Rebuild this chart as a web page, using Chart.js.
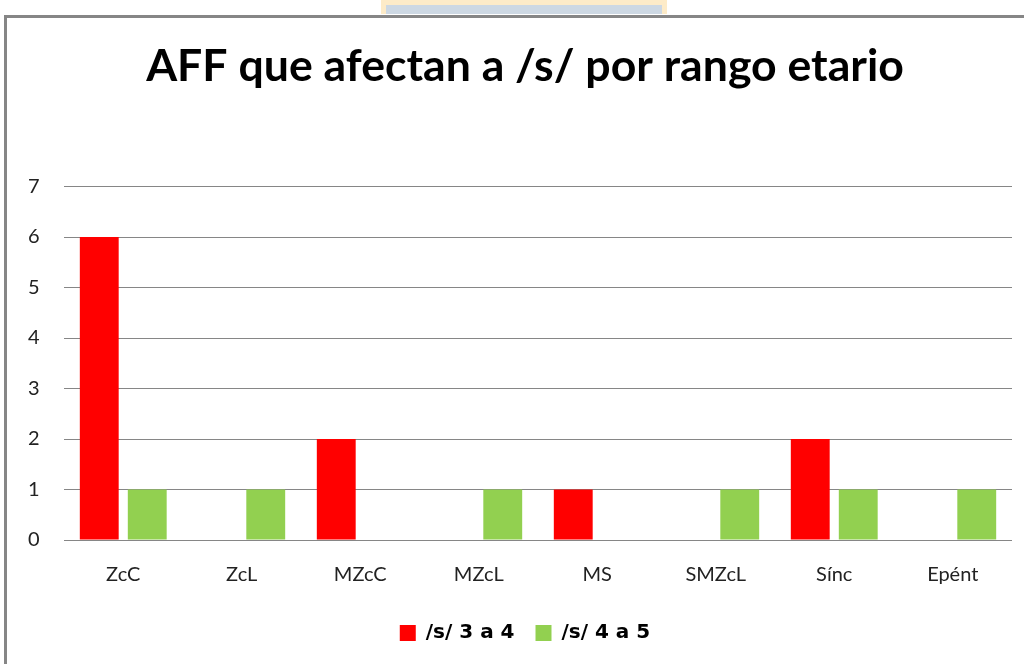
<!DOCTYPE html>
<html>
<head>
<meta charset="utf-8">
<script src="https://cdn.jsdelivr.net/npm/chart.js@4/dist/chart.umd.min.js"></script>
<style>
  html, body { margin: 0; padding: 0; background: #fff; }
  #wrap { position: relative; width: 1024px; height: 664px; overflow: hidden; }
  /* frame of the pasted chart */
  #tab { position: absolute; left: 381px; top: 0; width: 286px; height: 14px;
         background: #fdebc8; }
  #tab div { position: absolute; left: 5px; right: 5px; top: 5px; bottom: 0; background: #cdd8e3; }
  #frame { position: absolute; left: 4px; top: 15px; width: 1030px; height: 700px;
           border-top: 3px solid #868686; border-left: 3px solid #868686; }
  canvas { position: absolute; left: 0; top: 0; }
</style>
</head>
<body>
<div id="wrap">
  <div id="tab"><div></div></div>
  <div id="frame"></div>
  <canvas id="chart" width="1024" height="664"></canvas>
</div>
<script>
  // Categories and series
  var categories = ['ZcC', 'ZcL', 'MZcC', 'MZcL', 'MS', 'SMZcL', 'Sínc', 'Epént'];
  var edad3a4 = [6, 0, 2, 0, 1, 0, 2, 0];
  var edad4a5 = [1, 1, 0, 1, 0, 1, 1, 1];
  var yTicks = [0, 1, 2, 3, 4, 5, 6, 7];

  var fontFamily = 'Lato, "Open Sans", sans-serif';

  new Chart(document.getElementById('chart'), {
    type: 'bar',
    data: {
      labels: categories,
      datasets: [
        { label: '/s/ 3 a 4', data: edad3a4, backgroundColor: '#ff0000' },
        { label: '/s/ 4 a 5', data: edad4a5, backgroundColor: '#92d050' }
      ]
    },
    options: {
      responsive: false,
      animation: false,
      // left padding shifts the title/legend centre to match the original
      layout: { padding: { left: 38, right: 12, top: 0, bottom: 11 } },
      datasets: {
        bar: { categoryPercentage: 0.81, barPercentage: 0.81 }
      },
      plugins: {
        title: {
          display: true,
          text: 'AFF que afectan a /s/ por rango etario',
          color: '#000',
          font: { family: fontFamily, size: 44.6, weight: 'bold' },
          padding: { top: 40, bottom: 93 }
        },
        legend: {
          position: 'bottom',
          labels: {
            color: '#000',
            font: { family: '"DejaVu Sans", sans-serif', size: 20, weight: 'bold' },
            boxWidth: 16,
            boxHeight: 16,
            padding: 21
          }
        },
        tooltip: { enabled: false }
      },
      scales: {
        x: {
          grid: { display: false },
          border: { display: false },
          ticks: { color: '#222', font: { family: fontFamily, size: 20 }, padding: 15 }
        },
        y: {
          min: 0,
          max: 7,
          afterFit: function (scale) { scale.width = 26; },
          afterBuildTicks: function (scale) {
            scale.ticks = yTicks.map(function (v) { return { value: v }; });
          },
          grid: { color: '#868686', lineWidth: 1, drawTicks: false },
          border: { display: false },
          // mirrored + negative padding puts the labels left of the plot without clipping
          ticks: { color: '#222', font: { family: fontFamily, size: 20 }, mirror: true, padding: -36 }
        }
      }
    }
  });
</script>
</body>
</html>
